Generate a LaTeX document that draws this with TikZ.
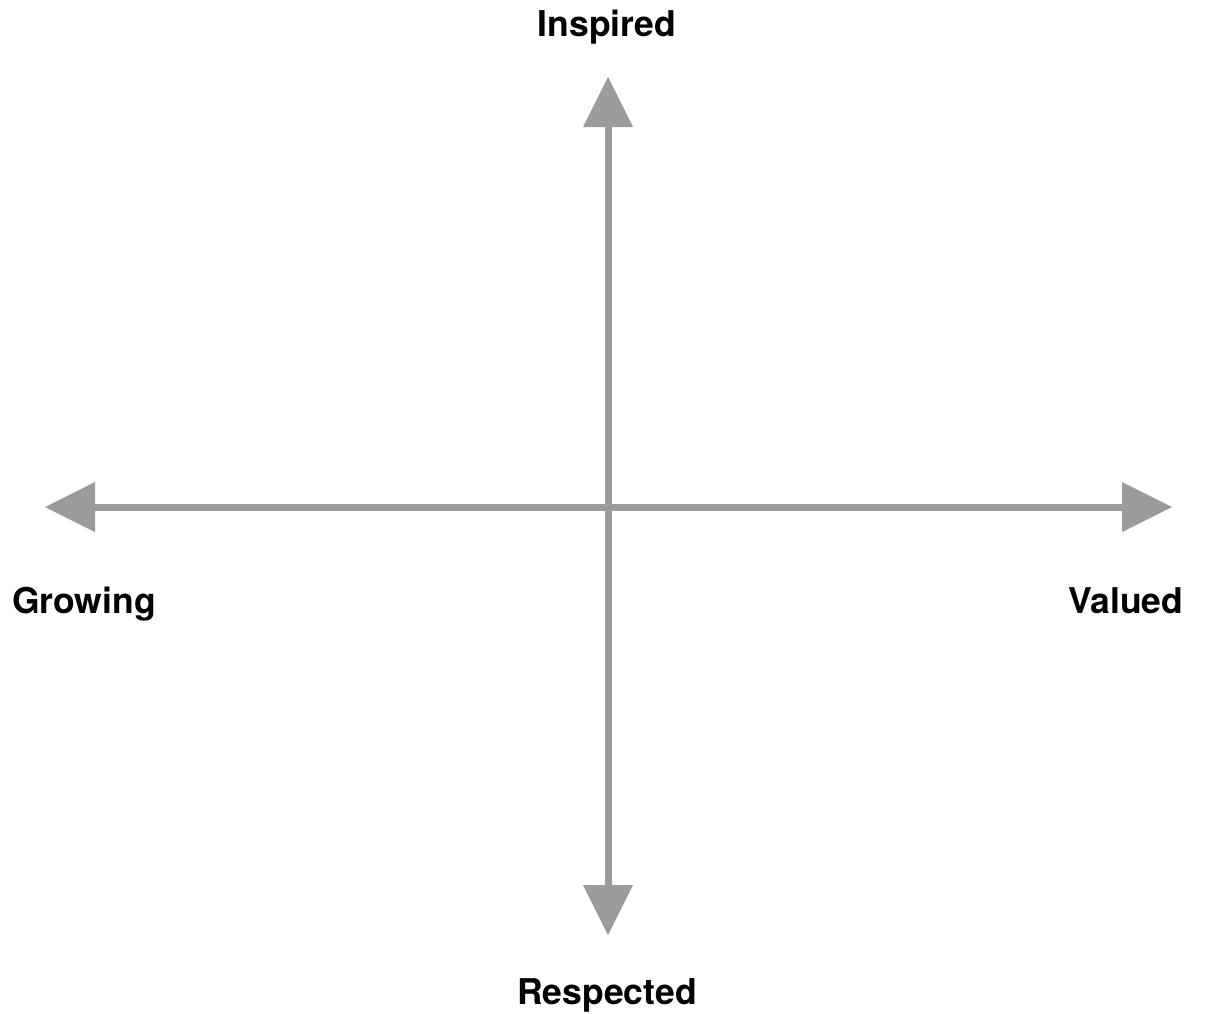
\documentclass[tikz,border=0pt]{standalone}
\usepackage{fontspec}
\setmainfont{TeX Gyre Heros}
\usetikzlibrary{arrows.meta}
\definecolor{axisgray}{RGB}{155,155,155}
\begin{document}
\begin{tikzpicture}[x=1pt,y=-1pt,
  axis/.style={draw=axisgray,line width=7pt,{Triangle[length=50pt,width=50pt,line width=0pt]}-{Triangle[length=50pt,width=50pt,line width=0pt]}},
  lbl/.style={font=\fontsize{35.5}{40}\selectfont\bfseries,text=black,inner sep=0pt,anchor=base}]
\useasboundingbox (0,0) rectangle (1205,1013);
\coordinate (L) at (45,507);
\coordinate (R) at (1172,507);
\coordinate (T) at (608,77);
\coordinate (B) at (608,935);
\draw[axis] (L) -- (R);
\draw[axis] (T) -- (B);
\node[lbl] (inspired) at (607,36) {Inspired};
\node[lbl] (respected) at (607,1004) {Respected};
\node[lbl] (growing) at (84,613) {Growing};
\node[lbl] (valued) at (1126,613) {Valued};
\end{tikzpicture}
\end{document}
